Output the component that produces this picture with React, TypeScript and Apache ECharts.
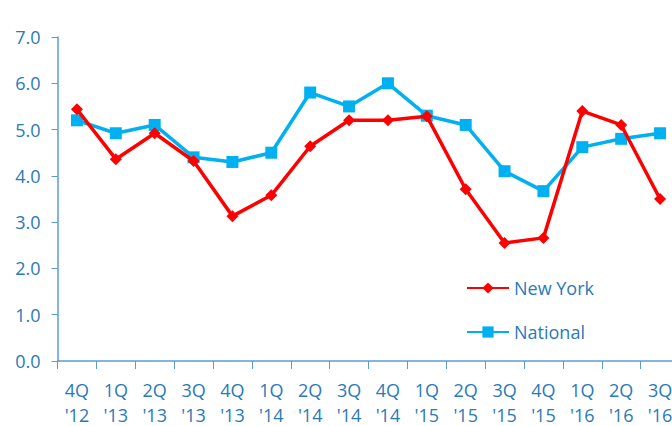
import React, { useEffect, useRef } from "react";
import * as echarts from "echarts";

const categories = ["4Q\n'12", "1Q\n'13", "2Q\n'13", "3Q\n'13", "4Q\n'13", "1Q\n'14", "2Q\n'14", "3Q\n'14", "4Q\n'14", "1Q\n'15", "2Q\n'15", "3Q\n'15", "4Q\n'15", "1Q\n'16", "2Q\n'16", "3Q\n'16"];
const newYork = [5.44, 4.36, 4.92, 4.32, 3.13, 3.58, 4.64, 5.2, 5.2, 5.29, 3.71, 2.55, 2.66, 5.4, 5.1, 3.5];
const national = [5.2, 4.92, 5.1, 4.4, 4.3, 4.5, 5.8, 5.5, 6.0, 5.3, 5.1, 4.1, 3.67, 4.62, 4.8, 4.92];

const textColor = "#2a7ab9";
const axisColor = "#5b9bd5";
const font = "'Open Sans', 'Noto Sans', sans-serif";

export default function App() {
  const ref = useRef<HTMLDivElement>(null);
  useEffect(() => {
    const chart = echarts.init(ref.current!, null, { renderer: "svg" });
    chart.setOption({
      animation: false,
      backgroundColor: "#ffffff",
      grid: { left: 57.5, top: 37, width: 622, height: 324, containLabel: false, outerBoundsMode: "none" },
      legend: {
        orient: "vertical",
        left: 461,
        top: 274,
        itemWidth: 42,
        itemHeight: 14,
        itemGap: 26,
        textStyle: { color: textColor, fontSize: 18, fontFamily: font },
        data: ["New York", "National"],
      },
      xAxis: {
        type: "category",
        data: categories,
        boundaryGap: true,
        axisLine: { lineStyle: { color: axisColor, width: 1.5 } },
        axisTick: { show: true, length: 8, inside: false, lineStyle: { color: axisColor } },
        axisLabel: { color: textColor, fontSize: 18, fontFamily: font, lineHeight: 25, margin: 16, interval: 0 },
      },
      yAxis: {
        type: "value",
        min: 0,
        max: 7,
        interval: 1,
        splitLine: { show: false },
        axisLine: { show: true, lineStyle: { color: axisColor, width: 1.5 } },
        axisTick: { show: true, length: 6, lineStyle: { color: axisColor } },
        axisLabel: { color: textColor, fontSize: 18, fontFamily: font, margin: 17, formatter: (v: number) => v.toFixed(1) },
      },
      series: [
        {
          name: "New York",
          type: "line",
          data: newYork,
          symbol: "diamond",
          symbolSize: 12,
          itemStyle: { color: "#ff0000" },
          lineStyle: { color: "#ff0000", width: 3.5 },
          z: 3,
        },
        {
          name: "National",
          type: "line",
          data: national,
          symbol: "rect",
          symbolSize: 12,
          itemStyle: { color: "#00b0f0" },
          lineStyle: { color: "#00b0f0", width: 3.5 },
          z: 2,
        },
      ],
    });
    return () => chart.dispose();
  }, []);
  return (
    <div
      ref={ref}
      style={{ position: "absolute", left: 0, top: 0, width: 672, height: 426 }}
    />
  );
}
